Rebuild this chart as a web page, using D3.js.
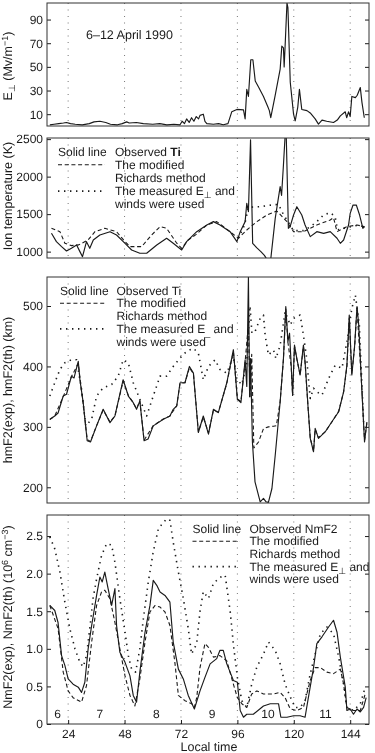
<!DOCTYPE html>
<html><head><meta charset="utf-8">
<script src="https://cdn.jsdelivr.net/npm/d3@7"></script>
<style>
html,body{margin:0;padding:0;background:#fff;}
svg{display:block;font-family:"Liberation Sans",Arial,sans-serif;}
svg text{text-rendering:geometricPrecision;}
</style></head>
<body><svg id="c" width="375" height="753" style="will-change:transform"></svg>
<script>
// ---------------- DATA ----------------
const xTicks = [24, 48, 72, 96, 120, 144];
const dayLabels = ["6", "7", "8", "9", "10", "11"];
const dayHours = [19.5, 37.5, 61.5, 85.2, 109, 133.5];

// Panel 1: E perpendicular
const eHours = [16.2,18,20,22,23.3,25,27,30,33,35,37.5,40,42,45,47,48.9,50,53,56,60,63,66,69,71.6,72.5,73.5,74.4,75.5,76.5,77.5,78.5,79.5,80.1,81.5,82.2,83,85.8,88,90,92,93.6,95.8,98.6,99.3,100,100.7,101.7,102.6,103.6,105,107.1,109,109.6,110.2,112,114.2,114.9,115.6,115.9,116.3,117.1,117.5,118.5,119.9,120.6,121.7,122.4,123.4,125.6,127,129.1,130.5,132,134,136.9,138.5,139.8,141.9,142.5,143.3,144,144.7,146.2,147,148.3,149,150];
const eValues = [1,1.5,2,2.5,3,2,1.5,1,2,3.5,4,3,1.5,1,2,3.5,2.5,3,2,1.5,2,1,1.5,1,4,2,6,3,7,4,8,6,9,10,4,2,1.5,2,1,2,12,14,13.6,6,31,25,56,56,38,33,25,16,13,7,25,48,67.5,66,50,67,104,100,37,10,4.4,16,31,14,13,11,6,1.6,5,4,3,5,8.6,12,7,12,8,25,24,26,32.5,20,7];
const eTicks = [10, 30, 50, 70, 90];

// Panel 2: ion temperature
const tiObsHours = [16.9,19.0,21.2,23.3,25.4,27.6,29.0,30.1,31.8,33.2,34.7,37.5,41.8,44.6,48.2,51.0,54.5,57.4,61.7,65.9,68.7,72.3,74.4,78.7,83.0,85.8,88.6,92.9,95.8,97.2,99.3,100.0,100.7,101.6,102.5,104.3,106,107.5,108.5,109.3,110.2,112.1,114.2,114.8,115.6,116.3,116.8,117.7,118.5,119.9,121.3,123.4,124.8,127.0,129.8,132.7,135.5,138.4,139.8,141.2,143.3,144.0,145.2,146.6,148.0,149.4,150.1];
const tiObsValues = [1244,1133,1067,1009,1044,1089,1000,933,1133,1044,1155,1222,1266,1222,1111,1022,978,978,1089,1178,1111,1022,1133,1266,1355,1400,1355,1266,1133,1266,1400,1644,1533,2490,1110,1050,1000,950,900,880,900,1444,1866,1750,2154,2540,2540,1311,1340,1488,1599,1488,1355,1200,1266,1244,1266,1178,1111,1155,1355,1510,1621,1621,1488,1311,1333];
const tiRichHours = [16.9,20.5,22.6,25.4,28.5,32.5,35.4,39.6,44.6,48.2,50.3,55.3,59.5,63.1,65.9,70.2,72.3,75.1,78.5,83.0,87.2,92.9,96.4,100,104.3,108.5,112.8,117.1,119.9,124.1,129.8,135.5,136.9,138.4,142.6,146.9,150.1];
const tiRichValues = [1311,1266,1112,1080,1090,1156,1266,1311,1266,1133,1067,1067,1222,1333,1311,1112,1044,1156,1230,1355,1400,1266,1178,1288,1400,1488,1541,1400,1266,1266,1355,1422,1453,1266,1333,1355,1333];
const tiMeasHours = [96.4,99,100.7,105.7,111.4,113.5,115.5,117.1,119.9,124.1,127,129.8,132.7,135.5,137.6,138.6,142.6,146.9,150.1];
const tiMeasValues = [1178,1350,1590,1600,1625,1630,1500,1420,1280,1280,1330,1400,1490,1520,1466,1290,1320,1350,1333];
const tiTicks = [1000, 1500, 2000, 2500];

// Panel 3: hmF2
const hmObsHours = [16.2,18.3,19.7,21.9,23.3,25.4,26.5,28.3,29,30.4,32.1,33.5,36.1,38.9,41.8,43.9,47.4,49.6,51.7,53.1,54.5,56.3,58,60.2,64.5,67.3,68.7,70.2,71.6,73.7,75.6,77.3,79.4,81.5,83.7,85.8,87.9,91.5,94.3,96.0,97.5,99.3,100,100.7,101.2,101.6,102.4,103.5,105.7,107.1,108.2,109.2,110.7,112.1,114.2,115.6,116.6,117.5,118.2,118.9,119.5,120.3,121.3,122.7,124.1,124.8,126.2,127,128.4,129.1,130.5,133.4,136.2,139.1,141.2,142.6,143.6,144.7,145.9,146.9,147.6,149,150.1,151.1];
const hmObsValues = [312.6,318,323,351,354,384,381,408.5,378,340,277,275,301.6,329,307,318,378,351,340,329,343,277,280,301.6,312.6,318,329,334.5,373,373,400,389,290.7,318,288,329,323.6,373,427.7,345.5,340,411,367,548,350,413,275,209,176,181.6,176,175,198,253,341.6,413,499,441,455,402,352.6,435.4,413,385.8,435.4,407.8,325,281,258.8,297.5,281,292,308.5,325,358,402,485,385.8,435,499,470,358,275,308];
const hmRichHours = [16.2,18.3,21.9,25.4,28.3,29.2,30.4,32.1,33.5,36.1,38.9,41.8,43.9,47.4,49.6,51.7,53.1,54.5,56.3,60.2,64.5,67.3,70.2,71.6,73.7,75.6,77.3,79.4,81.5,83.7,85.8,87.9,91.5,94.3,96,97.5,99.3,100.7,101.4,102.1,103,105,107.1,109.2,111.4,112.6,114.2,115.6,116.6,117.5,118.9,119.5,120.3,121.3,122.7,124.1,124.8,126.2,127,128.4,129.1,130.5,133.4,136.2,139.1,141.2,142.6,143.6,144.7,145.9,146.9,149,150.1,151.1];
const hmRichValues = [312,318,350,383,405,375,338,279,276,302,328,308,318,376,352,340,330,343,278,302,313,318,335,372,373,398,388,292,316,290,327,324,372,425,346,342,408,470,350,420,265,275,297,300,301,302,342,412,495,440,400,352,433,412,386,433,406,325,282,260,296,282,292,308,326,358,400,480,388,433,496,360,278,306];
const hmMeasHours = [16.2,18.3,20.5,22.6,25.4,27.6,29.7,31.5,34,36.1,38.9,42.5,45.3,47.4,49.6,51.7,54.5,57.4,60.2,63.1,65.9,68.7,71.6,74.4,77.3,79.4,81.5,83.7,86.5,88.6,91.5,94.3,95.8,97.9,100,101.4,102.2,103.5,105.7,107.1,107.8,109.2,111.4,112.4,114.2,116.3,118.5,119.9,122.7,124.1,125.5,127,128.4,129.8,132,134.8,137.6,140.5,142.6,144.7,146.2,147.9,149.7];
const hmMeasValues = [351,373,395,406,411,411,362,301.6,312.6,351,364.7,370,384,411,406,373,345.5,318,351,384,384,400,414,425,430,422,378,400,411,395,389,417,378,370,406,500,455,457.5,479.6,485,452,419,427,413,435,490.6,468.5,479.6,485,452,413,347,364,358,352.6,380,402,397,441,496,518,468.5,308];
const hmTicks = [200, 300, 400, 500];

// Panel 4: NmF2
const nmObsHours = [16.2,18.3,19.7,21.2,22.6,24,26.1,28.3,29.7,31.1,32.5,34,36.1,37.5,38.5,39.6,41,42.5,43.9,44.6,46,48.2,50.3,51.7,53.1,54.5,56.7,58.8,60.2,61.7,63.1,65.2,67.3,68.7,70.9,73,75.1,77.7,80.1,82.2,84.4,87.2,88.6,90,91.5,94.3,96,97.2,98.6,100,102.8,107.1,110,113.5,114.5,117.1,119.9,122.7,124.8,126.2,128.4,129.8,132,134.8,136.9,138.4,139.8,141.9,142.6,144,145.4,146.9,148.3,149.7,150.8];
const nmObsValues = [1.577,1.51,1.35,0.91,0.78,0.6,0.53,0.49,0.42,0.555,1.0,1.31,1.71,1.955,1.89,2.02,1.8,1.577,1.8,1.31,0.955,0.82,0.64,0.38,0.29,0.69,1.22,1.577,1.91,1.845,1.755,1.71,1.62,1.09,0.73,0.6,0.38,0.2,0.44,0.62,0.8,0.87,0.98,0.98,0.8,0.58,0.555,0.18,0.09,0.13,0.13,0.24,0.27,0.27,0.09,0.09,0.11,0.11,0.09,0.35,0.75,1.07,1.16,1.29,1.38,1.22,0.89,0.49,0.18,0.2,0.13,0.2,0.16,0.22,0.35];
const nmRichHours = [16.2,19.7,21.9,24,26.1,29.7,31.8,34,36.1,38.2,39.6,41.8,43.9,46,48.2,50.3,52.4,54.5,56.7,58.8,61,63.1,65.2,67.3,69.4,70.9,73.7,76.6,77.7,78.7,80.1,82.2,83.7,85.8,88.6,91.5,94.3,96,97.9,100,102.1,104.3,107.1,111.4,114.2,116.3,118.5,121.3,124.1,127,129.1,131.3,134.1,136.9,139.8,141.2,142.6,145.4,148.3,150.4];
const nmRichValues = [1.577,1.27,0.69,0.44,0.35,0.29,0.51,1.09,1.577,1.755,1.78,1.666,1.35,1.0,0.64,0.38,0.24,0.6,1.09,1.49,1.577,1.555,1.49,1.31,0.82,0.38,0.31,0.27,0.22,0.35,0.75,1.07,1.02,0.89,0.91,0.84,0.53,0.35,0.27,0.22,0.4,0.44,0.4,0.4,0.42,0.35,0.2,0.18,0.22,0.58,0.75,0.75,0.69,0.67,0.73,0.53,0.22,0.18,0.18,0.4];
const nmMeasHours = [16.2,18.3,20.5,22.6,24.7,26.9,29,30.4,31.8,33.2,34.6,36.1,38.2,40.4,42.5,43.9,46,48.2,49.6,51,52.7,54.5,56,58.1,60.2,62.4,65.9,67.3,68.7,70.9,73,75.1,76.5,78.7,80.1,81.5,83.7,85.8,88.6,90.8,91.5,92.9,94.3,96,97.9,100,102.1,104.3,107.1,109.2,112.1,114.2,116.3,118.5,120.6,122.7,124.8,127,129.1,131.3,134.1,136.9,139.1,141.2,142.6,145.4,148.3,150.4];
const nmMeasValues = [2.49,2.33,2.02,1.62,1.27,1.0,0.82,0.76,0.91,1.27,1.67,1.93,2.24,2.4,2.38,2.15,1.67,1.22,0.91,0.73,0.69,1.0,1.4,1.89,2.29,2.6,2.73,2.71,2.42,2.02,1.67,1.27,0.93,1.07,1.5,1.76,1.67,1.87,1.95,1.98,1.82,1.51,1.06,0.62,0.31,0.22,0.53,0.76,0.93,1.09,0.98,0.8,0.53,0.36,0.22,0.22,0.31,0.67,0.93,1.2,1.29,1.2,0.89,0.53,0.22,0.18,0.27,0.49];
const nmTicks = [0, 0.5, 1.0, 1.5, 2.0, 2.5];
const nmTickLabels = ["0", "0.5", "1.0", "1.5", "2.0", "2.5"];

// ---------------- DRAWING ----------------
const svg = d3.select("#c");
const L = 47, R = 369;
const x = d3.scaleLinear().domain([15, 152]).range([L, R]);
const INK = "#1a1a1a";
const FONT = 12;

const panels = [
  {top: 3, bottom: 126, domain: [0, 104], ticks: eTicks, labels: eTicks.map(String),
   series: [{h: eHours, v: eValues, style: "solid"}]},
  {top: 138, bottom: 258, domain: [915, 2515], ticks: tiTicks, labels: tiTicks.map(String),
   series: [{h: tiRichHours, v: tiRichValues, style: "dash"}, {h: tiMeasHours, v: tiMeasValues, style: "dot"}, {h: tiObsHours, v: tiObsValues, style: "solid"}]},
  {top: 277, bottom: 503, domain: [174, 548], ticks: hmTicks, labels: hmTicks.map(String),
   series: [{h: hmRichHours, v: hmRichValues, style: "dash"}, {h: hmMeasHours, v: hmMeasValues, style: "dot"}, {h: hmObsHours, v: hmObsValues, style: "solid"}]},
  {top: 515, bottom: 724, domain: [0, 2.78], ticks: nmTicks, labels: nmTickLabels,
   series: [{h: nmRichHours, v: nmRichValues, style: "dash"}, {h: nmMeasHours, v: nmMeasValues, style: "dot"}, {h: nmObsHours, v: nmObsValues, style: "solid"}]}
];

const styles = {
  solid: {w: 1.15, dash: null},
  dash: {w: 1.1, dash: "4,2.7"},
  dot: {w: 1.6, dash: "1.4,4.6"}
};

panels.forEach((p, i) => {
  const y = d3.scaleLinear().domain(p.domain).range([p.bottom, p.top]);
  p.y = y;
  const g = svg.append("g");
  const cid = "clip" + i;
  svg.append("defs").append("clipPath").attr("id", cid)
    .append("rect").attr("x", L).attr("y", p.top).attr("width", R - L).attr("height", p.bottom - p.top);

  g.selectAll("line.grid").data(xTicks).join("line")
    .attr("x1", d => x(d)).attr("x2", d => x(d))
    .attr("y1", p.top).attr("y2", p.bottom)
    .attr("stroke", "#777").attr("stroke-width", 1).attr("stroke-dasharray", "1,5.5");

  const line = d3.line().x(d => x(d[0])).y(d => y(d[1]));
  p.series.forEach(s => {
    const st = styles[s.style];
    g.append("path").attr("clip-path", `url(#${cid})`)
      .datum(d3.zip(s.h, s.v))
      .attr("d", line).attr("fill", "none").attr("stroke", INK)
      .attr("stroke-width", st.w).attr("stroke-linejoin", "round")
      .attr("stroke-dasharray", st.dash);
  });

  const la = d3.axisLeft(y).tickValues(p.ticks).tickFormat((d, k) => p.labels[k])
    .tickSizeInner(-4).tickSizeOuter(0).tickPadding(4);
  const lg = svg.append("g").attr("transform", `translate(${L},0)`).call(la);
  lg.select(".domain").remove();
  lg.selectAll("text").attr("font-size", FONT).attr("fill", INK).attr("font-family", "Liberation Sans, Arial, sans-serif");
  lg.selectAll("line").attr("stroke", INK);

  const ra = d3.axisRight(y).tickValues(p.ticks).tickFormat("").tickSizeInner(-4).tickSizeOuter(0);
  const rg = svg.append("g").attr("transform", `translate(${R},0)`).call(ra);
  rg.select(".domain").remove();
  rg.selectAll("line").attr("stroke", INK);

  svg.append("rect").attr("x", L).attr("y", p.top).attr("width", R - L).attr("height", p.bottom - p.top)
    .attr("fill", "none").attr("stroke", "#333").attr("stroke-width", 1);
});

const p4 = panels[3];
const ba = d3.axisBottom(x).tickValues(xTicks).tickSizeInner(-4).tickSizeOuter(0).tickPadding(5);
const bg = svg.append("g").attr("transform", `translate(0,${p4.bottom})`).call(ba);
bg.select(".domain").remove();
bg.selectAll("text").attr("font-size", FONT).attr("fill", INK).attr("font-family", "Liberation Sans, Arial, sans-serif");
bg.selectAll("line").attr("stroke", INK);

svg.append("text").attr("x", 209).attr("y", 750.5).attr("text-anchor", "middle")
  .attr("font-size", 12.5).attr("fill", INK).text("Local time");

svg.selectAll("text.day").data(dayLabels).join("text").attr("class", "day")
  .attr("x", (d, k) => x(dayHours[k])).attr("y", 717.5).attr("text-anchor", "middle")
  .attr("font-size", FONT).attr("fill", INK).text(d => d);

svg.append("text").attr("x", 86).attr("y", 39).attr("font-size", 12.5).attr("fill", INK).text("6\u201312 April 1990");

function ytitle(cy, parts) {
  const t = svg.append("text").attr("transform", `translate(11.5,${cy}) rotate(-90)`)
    .attr("text-anchor", "middle").attr("font-size", 12.5).attr("fill", INK);
  parts.forEach(pt => {
    const s = t.append("tspan").text(pt.t);
    if (pt.dy) s.attr("dy", pt.dy);
    if (pt.fs) s.attr("font-size", pt.fs);
  });
}
ytitle(66, [{t: "E"}, {t: "\u22A5", dy: 3, fs: 9}, {t: " (Mv/m", dy: -3}, {t: "\u22121", dy: -4, fs: 9}, {t: ")", dy: 4}]);
ytitle(196, [{t: "Ion temperature (K)"}]);
ytitle(390, [{t: "hmF2(exp), hmF2(th)  (km)"}]);
ytitle(617, [{t: "NmF2(exp), NmF2(th) (10"}, {t: "6", dy: -4, fs: 9}, {t: " cm", dy: 4}, {t: "\u22123", dy: -4, fs: 9}, {t: ")", dy: 4}]);

function legend(x0, x1, b0, step, obsParts, eSym) {
  const g = svg.append("g").attr("font-size", FONT).attr("fill", INK);
  g.append("text").attr("x", x0).attr("y", b0).text("Solid line");
  const t1 = g.append("text").attr("x", x1).attr("y", b0);
  obsParts.forEach(pt => { const s = t1.append("tspan").text(pt.t); if (pt.b) s.attr("font-weight", "bold"); });
  g.append("text").attr("x", x1).attr("y", b0 + step).text("The modified");
  g.append("text").attr("x", x1).attr("y", b0 + 2 * step).text("Richards method");
  const t4 = g.append("text").attr("x", x1).attr("y", b0 + 3 * step);
  t4.append("tspan").text("The measured E");
  t4.append("tspan").attr("dy", 3).attr("font-size", 9).text(eSym);
  t4.append("tspan").attr("dy", -3).text(" and");
  g.append("text").attr("x", x1).attr("y", b0 + 4 * step).text("winds were used");
  const sw = x1 - x0 - 10;
  g.append("line").attr("x1", x0).attr("x2", x0 + sw).attr("y1", b0 + step - 4).attr("y2", b0 + step - 4)
    .attr("stroke", INK).attr("stroke-width", styles.dash.w).attr("stroke-dasharray", styles.dash.dash);
  g.append("line").attr("x1", x0).attr("x2", x0 + sw).attr("y1", b0 + 3 * step - 4).attr("y2", b0 + 3 * step - 4)
    .attr("stroke", INK).attr("stroke-width", styles.dot.w).attr("stroke-dasharray", styles.dot.dash);
}
legend(58, 115, 155.5, 13.2, [{t: "Observed "}, {t: "Ti", b: true}], "\u22A5");
legend(60, 116.5, 294.5, 12.8, [{t: "Observed Ti"}], "_");
legend(192.5, 249.5, 532.5, 12.7, [{t: "Observed NmF2"}], "\u22A5");
</script></body></html>
